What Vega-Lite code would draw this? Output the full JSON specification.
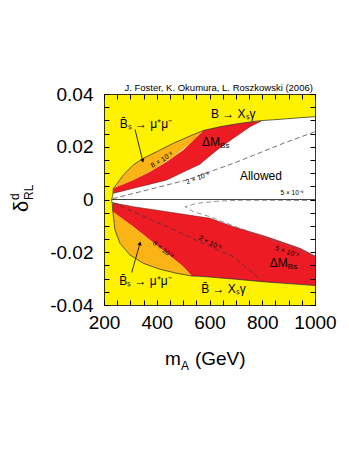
{
  "$schema": "https://vega.github.io/schema/vega-lite/v6.json",
  "width": 211,
  "height": 211,
  "autosize": {"type": "none"},
  "padding": {"left": 104, "top": 94, "right": 34, "bottom": 146},
  "background": "white",
  "view": {"fill": "#fff200", "stroke": null},
  "config": {
    "axis": {"grid": false, "zindex": 1, "ticks": true, "tickSize": -5, "tickColor": "black", "tickWidth": 1, "domainColor": "black", "domainWidth": 0.8, "labelFont": "Liberation Sans", "labelFontSize": 19, "labelColor": "black", "labelOverlap": false, "labelFlush": false},
    "text": {"font": "Liberation Sans", "color": "black"}
  },
  "datasets": {
    "edges": [
      {"seg": "yu", "x": 229, "y": 0}, {"seg": "yu", "x": 233, "y": 0.0015}, {"seg": "yu", "x": 235.3, "y": 0.0042}, {"seg": "yu", "x": 248.2, "y": 0.0058}, {"seg": "yu", "x": 273.2, "y": 0.0093}, {"seg": "yu", "x": 311.1, "y": 0.01308}, {"seg": "yu", "x": 349, "y": 0.01562}, {"seg": "yu", "x": 399.8, "y": 0.01812}, {"seg": "yu", "x": 462.7, "y": 0.0213}, {"seg": "yu", "x": 526.1, "y": 0.02407}, {"seg": "yu", "x": 576.5, "y": 0.02615}, {"seg": "yu", "x": 639.8, "y": 0.0276}, {"seg": "yu", "x": 715.6, "y": 0.02888}, {"seg": "yu", "x": 791.5, "y": 0.02987}, {"seg": "yu", "x": 867.3, "y": 0.0304}, {"seg": "yu", "x": 943.1, "y": 0.031}, {"seg": "yu", "x": 1000, "y": 0.0314},
      {"seg": "yl", "x": 229, "y": 0}, {"seg": "yl", "x": 232, "y": -0.0021}, {"seg": "yl", "x": 233, "y": -0.004}, {"seg": "yl", "x": 241.7, "y": -0.01156}, {"seg": "yl", "x": 260.7, "y": -0.0166}, {"seg": "yl", "x": 298.6, "y": -0.02104}, {"seg": "yl", "x": 349, "y": -0.02419}, {"seg": "yl", "x": 412.3, "y": -0.02646}, {"seg": "yl", "x": 475.6, "y": -0.02797}, {"seg": "yl", "x": 532.5, "y": -0.029}, {"seg": "yl", "x": 564, "y": -0.0291}, {"seg": "yl", "x": 690.2, "y": -0.03014}, {"seg": "yl", "x": 816.9, "y": -0.03128}, {"seg": "yl", "x": 1000, "y": -0.0326},
      {"seg": "ru", "x": 235.3, "y": 0.00235}, {"seg": "ru", "x": 311.1, "y": 0.00425}, {"seg": "ru", "x": 437.7, "y": 0.00739}, {"seg": "ru", "x": 564, "y": 0.0134}, {"seg": "ru", "x": 627.3, "y": 0.01876}, {"seg": "ru", "x": 690.2, "y": 0.0232}, {"seg": "ru", "x": 753.5, "y": 0.0276}, {"seg": "ru", "x": 797, "y": 0.0298},
      {"seg": "rl", "x": 233, "y": -0.00121}, {"seg": "rl", "x": 311.1, "y": -0.00273}, {"seg": "rl", "x": 437.7, "y": -0.00462}, {"seg": "rl", "x": 601.9, "y": -0.00713}, {"seg": "rl", "x": 690.2, "y": -0.01031}, {"seg": "rl", "x": 816.9, "y": -0.0141}, {"seg": "rl", "x": 943.1, "y": -0.0185}, {"seg": "rl", "x": 1000, "y": -0.0214},
      {"seg": "zero", "x": 229, "y": 0}, {"seg": "zero", "x": 1000, "y": 0}
    ],
    "areas": [
      {"region": "redU", "x": 235.3, "y": 0.00425, "y2": 0.00235}, {"region": "redU", "x": 260, "y": 0.00527, "y2": 0.00297}, {"region": "redU", "x": 311.1, "y": 0.00739, "y2": 0.00425}, {"region": "redU", "x": 374.4, "y": 0.01054, "y2": 0.00582}, {"region": "redU", "x": 437.7, "y": 0.01433, "y2": 0.00739}, {"region": "redU", "x": 500.7, "y": 0.01876, "y2": 0.0104}, {"region": "redU", "x": 564, "y": 0.02493, "y2": 0.0134}, {"region": "redU", "x": 576.5, "y": 0.02615, "y2": 0.01446}, {"region": "redU", "x": 639.8, "y": 0.0276, "y2": 0.01964}, {"region": "redU", "x": 690.2, "y": 0.02845, "y2": 0.0232}, {"region": "redU", "x": 753.5, "y": 0.02937, "y2": 0.0276}, {"region": "redU", "x": 797, "y": 0.0298, "y2": 0.0298},
      {"region": "redL", "x": 233, "y": -0.00121, "y2": -0.00462}, {"region": "redL", "x": 311.1, "y": -0.00273, "y2": -0.01031}, {"region": "redL", "x": 374.4, "y": -0.00367, "y2": -0.01535}, {"region": "redL", "x": 437.7, "y": -0.00462, "y2": -0.0204}, {"region": "redL", "x": 500.7, "y": -0.00558, "y2": -0.02547}, {"region": "redL", "x": 532.5, "y": -0.00607, "y2": -0.029}, {"region": "redL", "x": 564, "y": -0.00655, "y2": -0.0291}, {"region": "redL", "x": 601.9, "y": -0.00713, "y2": -0.0294}, {"region": "redL", "x": 690.2, "y": -0.01031, "y2": -0.03014}, {"region": "redL", "x": 816.9, "y": -0.0141, "y2": -0.03128}, {"region": "redL", "x": 943.1, "y": -0.0185, "y2": -0.0321}, {"region": "redL", "x": 1000, "y": -0.0214, "y2": -0.0326},
      {"region": "orU", "x": 235.3, "y": 0.0042, "y2": 0.0042}, {"region": "orU", "x": 248.2, "y": 0.0058, "y2": 0.0048}, {"region": "orU", "x": 273.2, "y": 0.0093, "y2": 0.00582}, {"region": "orU", "x": 311.1, "y": 0.01308, "y2": 0.00739}, {"region": "orU", "x": 349, "y": 0.01562, "y2": 0.00928}, {"region": "orU", "x": 399.8, "y": 0.01812, "y2": 0.01206}, {"region": "orU", "x": 462.7, "y": 0.0213, "y2": 0.01609}, {"region": "orU", "x": 526.1, "y": 0.02407, "y2": 0.02124}, {"region": "orU", "x": 576.5, "y": 0.02615, "y2": 0.02615},
      {"region": "orL", "x": 233, "y": -0.0042, "y2": -0.0042}, {"region": "orL", "x": 241.7, "y": -0.00525, "y2": -0.01156}, {"region": "orL", "x": 260.7, "y": -0.00663, "y2": -0.0166}, {"region": "orL", "x": 298.6, "y": -0.0094, "y2": -0.02104}, {"region": "orL", "x": 349, "y": -0.01333, "y2": -0.02419}, {"region": "orL", "x": 412.3, "y": -0.01838, "y2": -0.02646}, {"region": "orL", "x": 475.6, "y": -0.02345, "y2": -0.02797}, {"region": "orL", "x": 500.7, "y": -0.02547, "y2": -0.0284}, {"region": "orL", "x": 532.5, "y": -0.029, "y2": -0.029}
    ],
    "dashes": [
      {"seg": "d2u", "i": 1, "x": 233, "y": 0.0003}, {"seg": "d2u", "i": 2, "x": 513.5, "y": 0.0074}, {"seg": "d2u", "i": 3, "x": 690.2, "y": 0.0137}, {"seg": "d2u", "i": 4, "x": 879.8, "y": 0.0213}, {"seg": "d2u", "i": 5, "x": 1000, "y": 0.0257},
      {"seg": "d2l", "i": 1, "x": 233, "y": -0.0012}, {"seg": "d2l", "i": 2, "x": 437.7, "y": -0.01027}, {"seg": "d2l", "i": 3, "x": 556.4, "y": -0.01573}, {"seg": "d2l", "i": 4, "x": 690.2, "y": -0.02168}, {"seg": "d2l", "i": 5, "x": 804, "y": -0.03116},
      {"seg": "d5l", "i": 1, "x": 1000, "y": -0.00038}, {"seg": "d5l", "i": 2, "x": 715.6, "y": -0.0003}, {"seg": "d5l", "i": 3, "x": 639.8, "y": -0.00057}, {"seg": "d5l", "i": 4, "x": 551.5, "y": -0.00144}, {"seg": "d5l", "i": 5, "x": 507.1, "y": -0.00273}, {"seg": "d5l", "i": 6, "x": 538.6, "y": -0.00462}, {"seg": "d5l", "i": 7, "x": 601.9, "y": -0.00652}, {"seg": "d5l", "i": 8, "x": 665.2, "y": -0.00902}, {"seg": "d5l", "i": 9, "x": 715.6, "y": -0.01092}, {"seg": "d5l", "i": 10, "x": 816.9, "y": -0.0146}, {"seg": "d5l", "i": 11, "x": 943.1, "y": -0.019}, {"seg": "d5l", "i": 12, "x": 1000, "y": -0.0218}
    ],
    "arrows": [
      {"seg": "au", "i": 1, "x": 317.5, "y": 0.0266}, {"seg": "au", "i": 2, "x": 346.7, "y": 0.0147},
      {"seg": "al", "i": 1, "x": 305, "y": -0.0277}, {"seg": "al", "i": 2, "x": 336.5, "y": -0.0166}
    ]
  },
  "resolve": {"axis": {"x": "independent", "y": "independent"}},
  "layer": [
    {
      "data": {"name": "edges"},
      "transform": [{"filter": "datum.seg === 'yu'"}],
      "mark": {"type": "area", "color": "white"},
      "encoding": {
        "x": {"field": "x", "type": "quantitative", "scale": {"domain": [200, 1000], "nice": false, "zero": false},
          "axis": {"orient": "bottom", "title": null, "zindex": 2, "ticks": true, "tickSize": -5, "values": [200, 250, 300, 350, 400, 450, 500, 550, 600, 650, 700, 750, 800, 850, 900, 950, 1000], "labelExpr": "datum.value % 200 === 0 ? '' + datum.value : ''", "labelPadding": 13}},
        "y": {"field": "y", "type": "quantitative", "stack": null, "scale": {"domain": [-0.04, 0.04], "nice": false, "zero": false},
          "axis": {"orient": "left", "title": null, "zindex": 2, "ticks": true, "tickSize": -5, "values": [-0.04, -0.035, -0.03, -0.025, -0.02, -0.015, -0.01, -0.005, 0, 0.005, 0.01, 0.015, 0.02, 0.025, 0.03, 0.035, 0.04], "labelExpr": "round(datum.value*1000) % 20 === 0 ? (abs(datum.value) < 1e-9 ? '0' : (datum.value < 0 ? '-' : '') + format(abs(datum.value), '.2f')) : ''", "labelPadding": 16}},
        "y2": {"datum": 0}
      }
    },
    {
      "data": {"name": "edges"},
      "transform": [{"filter": "datum.seg === 'yl'"}],
      "mark": {"type": "area", "color": "white"},
      "encoding": {
        "x": {"field": "x", "type": "quantitative", "scale": {"domain": [200, 1000], "nice": false, "zero": false},
          "axis": {"orient": "top", "title": null, "zindex": 2, "ticks": true, "tickSize": -5, "labels": false, "values": [200, 250, 300, 350, 400, 450, 500, 550, 600, 650, 700, 750, 800, 850, 900, 950, 1000]}},
        "y": {"field": "y", "type": "quantitative", "stack": null, "scale": {"domain": [-0.04, 0.04], "nice": false, "zero": false},
          "axis": {"orient": "right", "title": null, "zindex": 2, "ticks": true, "tickSize": -5, "labels": false, "values": [-0.04, -0.035, -0.03, -0.025, -0.02, -0.015, -0.01, -0.005, 0, 0.005, 0.01, 0.015, 0.02, 0.025, 0.03, 0.035, 0.04]}},
        "y2": {"datum": 0}
      }
    },
    {
      "data": {"name": "areas"},
      "transform": [{"filter": "datum.region === 'redU' || datum.region === 'redL'"}],
      "mark": {"type": "area", "color": "#ed1c24"},
      "encoding": {
        "detail": {"field": "region"},
        "x": {"field": "x", "type": "quantitative", "scale": {"domain": [200, 1000], "nice": false, "zero": false}, "axis": null},
        "y": {"field": "y", "type": "quantitative", "stack": null, "scale": {"domain": [-0.04, 0.04], "nice": false, "zero": false}, "axis": null},
        "y2": {"field": "y2"}
      }
    },
    {
      "data": {"name": "areas"},
      "transform": [{"filter": "datum.region === 'orU' || datum.region === 'orL'"}],
      "mark": {"type": "area", "color": "#fbb416"},
      "encoding": {
        "detail": {"field": "region"},
        "x": {"field": "x", "type": "quantitative", "scale": {"domain": [200, 1000], "nice": false, "zero": false}, "axis": null},
        "y": {"field": "y", "type": "quantitative", "stack": null, "scale": {"domain": [-0.04, 0.04], "nice": false, "zero": false}, "axis": null},
        "y2": {"field": "y2"}
      }
    },
    {
      "data": {"name": "edges"},
      "transform": [{"filter": "datum.seg === 'yu' || datum.seg === 'yl'"}],
      "mark": {"type": "line", "color": "#222", "strokeWidth": 0.7},
      "encoding": {
        "detail": {"field": "seg"},
        "x": {"field": "x", "type": "quantitative", "scale": {"domain": [200, 1000], "nice": false, "zero": false}, "axis": null},
        "y": {"field": "y", "type": "quantitative", "scale": {"domain": [-0.04, 0.04], "nice": false, "zero": false}, "axis": null}
      }
    },
    {
      "data": {"name": "edges"},
      "transform": [{"filter": "datum.seg === 'ru' || datum.seg === 'rl'"}],
      "mark": {"type": "line", "color": "#5a0a0a", "strokeWidth": 0.5},
      "encoding": {
        "detail": {"field": "seg"},
        "x": {"field": "x", "type": "quantitative", "scale": {"domain": [200, 1000], "nice": false, "zero": false}, "axis": null},
        "y": {"field": "y", "type": "quantitative", "scale": {"domain": [-0.04, 0.04], "nice": false, "zero": false}, "axis": null}
      }
    },
    {
      "data": {"name": "edges"},
      "transform": [{"filter": "datum.seg === 'zero'"}],
      "mark": {"type": "line", "color": "#444", "strokeWidth": 1},
      "encoding": {
        "x": {"field": "x", "type": "quantitative", "scale": {"domain": [200, 1000], "nice": false, "zero": false}, "axis": null},
        "y": {"field": "y", "type": "quantitative", "scale": {"domain": [-0.04, 0.04], "nice": false, "zero": false}, "axis": null}
      }
    },
    {
      "data": {"name": "dashes"},
      "transform": [{"filter": "datum.seg !== 'd5l'"}],
      "mark": {"type": "line", "color": "#333", "strokeWidth": 0.7, "strokeDash": [5, 3]},
      "encoding": {
        "detail": {"field": "seg"},
        "order": {"field": "i", "type": "quantitative"},
        "x": {"field": "x", "type": "quantitative", "scale": {"domain": [200, 1000], "nice": false, "zero": false}, "axis": null},
        "y": {"field": "y", "type": "quantitative", "scale": {"domain": [-0.04, 0.04], "nice": false, "zero": false}, "axis": null}
      }
    },
    {
      "data": {"name": "dashes"},
      "transform": [{"filter": "datum.seg === 'd5l'"}],
      "mark": {"type": "line", "color": "#666", "strokeWidth": 0.7, "strokeDash": [5, 3]},
      "encoding": {
        "order": {"field": "i", "type": "quantitative"},
        "x": {"field": "x", "type": "quantitative", "scale": {"domain": [200, 1000], "nice": false, "zero": false}, "axis": null},
        "y": {"field": "y", "type": "quantitative", "scale": {"domain": [-0.04, 0.04], "nice": false, "zero": false}, "axis": null}
      }
    },
    {
      "data": {"name": "arrows"},
      "mark": {"type": "line", "color": "black", "strokeWidth": 0.8},
      "encoding": {
        "detail": {"field": "seg"},
        "order": {"field": "i", "type": "quantitative"},
        "x": {"field": "x", "type": "quantitative", "scale": {"domain": [200, 1000], "nice": false, "zero": false}, "axis": null},
        "y": {"field": "y", "type": "quantitative", "scale": {"domain": [-0.04, 0.04], "nice": false, "zero": false}, "axis": null}
      }
    },
    {
      "data": {"name": "arrows"},
      "transform": [{"filter": "datum.seg === 'au' && datum.i === 2"}],
      "mark": {"type": "point", "shape": "triangle-down", "filled": true, "color": "black", "size": 18, "angle": 346, "opacity": 1},
      "encoding": {
        "x": {"field": "x", "type": "quantitative", "scale": {"domain": [200, 1000], "nice": false, "zero": false}, "axis": null},
        "y": {"field": "y", "type": "quantitative", "scale": {"domain": [-0.04, 0.04], "nice": false, "zero": false}, "axis": null}
      }
    },
    {
      "data": {"name": "arrows"},
      "transform": [{"filter": "datum.seg === 'al' && datum.i === 2"}],
      "mark": {"type": "point", "shape": "triangle-up", "filled": true, "color": "black", "size": 18, "angle": 16, "opacity": 1},
      "encoding": {
        "x": {"field": "x", "type": "quantitative", "scale": {"domain": [200, 1000], "nice": false, "zero": false}, "axis": null},
        "y": {"field": "y", "type": "quantitative", "scale": {"domain": [-0.04, 0.04], "nice": false, "zero": false}, "axis": null}
      }
    },
    {
      "data": {"values": [{"label": "J. Foster, K. Okumura, L. Roszkowski (2006)", "x": 992, "y": 0.0411}]},
      "mark": {"type": "text", "fontSize": 9.5, "align": "right", "baseline": "alphabetic"},
      "encoding": {
        "text": {"field": "label"},
        "x": {"field": "x", "type": "quantitative", "scale": {"domain": [200, 1000], "nice": false, "zero": false}, "axis": null},
        "y": {"field": "y", "type": "quantitative", "scale": {"domain": [-0.04, 0.04], "nice": false, "zero": false}, "axis": null}
      }
    },
    {
      "data": {"values": [{"label": "B̄ₛ → μ⁺μ⁻", "x": 359, "y": 0.0286}, {"label": "B̄ₛ → μ⁺μ⁻", "x": 357, "y": -0.0309}, {"label": "B → Xₛγ", "x": 690, "y": 0.0326}, {"label": "B̄ → Xₛγ", "x": 653, "y": -0.0339}, {"label": "Allowed", "x": 795, "y": 0.0089}]},
      "mark": {"type": "text", "fontSize": 12, "align": "center", "baseline": "middle"},
      "encoding": {
        "text": {"field": "label"},
        "x": {"field": "x", "type": "quantitative", "scale": {"domain": [200, 1000], "nice": false, "zero": false}, "axis": null},
        "y": {"field": "y", "type": "quantitative", "scale": {"domain": [-0.04, 0.04], "nice": false, "zero": false}, "axis": null}
      }
    },
    {
      "data": {"values": [{"x": 640, "y": 0.0218}, {"x": 897, "y": -0.0241}]},
      "mark": {"type": "text", "fontSize": 12, "align": "right", "baseline": "middle", "text": "ΔM"},
      "encoding": {
        "x": {"field": "x", "type": "quantitative", "scale": {"domain": [200, 1000], "nice": false, "zero": false}, "axis": null},
        "y": {"field": "y", "type": "quantitative", "scale": {"domain": [-0.04, 0.04], "nice": false, "zero": false}, "axis": null}
      }
    },
    {
      "data": {"values": [{"x": 640, "y": 0.0218}, {"x": 897, "y": -0.0241}]},
      "mark": {"type": "text", "fontSize": 8, "align": "left", "baseline": "middle", "dy": 4, "text": "Bs"},
      "encoding": {
        "x": {"field": "x", "type": "quantitative", "scale": {"domain": [200, 1000], "nice": false, "zero": false}, "axis": null},
        "y": {"field": "y", "type": "quantitative", "scale": {"domain": [-0.04, 0.04], "nice": false, "zero": false}, "axis": null}
      }
    },
    {
      "data": {"values": [{"label": "8 × 10⁻⁸", "x": 420, "y": 0.015}]},
      "mark": {"type": "text", "fontSize": 7, "align": "center", "baseline": "middle", "angle": 329},
      "encoding": {
        "text": {"field": "label"},
        "x": {"field": "x", "type": "quantitative", "scale": {"domain": [200, 1000], "nice": false, "zero": false}, "axis": null},
        "y": {"field": "y", "type": "quantitative", "scale": {"domain": [-0.04, 0.04], "nice": false, "zero": false}, "axis": null}
      }
    },
    {
      "data": {"values": [{"label": "8 × 10⁻⁸", "x": 424, "y": -0.0191}]},
      "mark": {"type": "text", "fontSize": 7, "align": "center", "baseline": "middle", "angle": 39},
      "encoding": {
        "text": {"field": "label"},
        "x": {"field": "x", "type": "quantitative", "scale": {"domain": [200, 1000], "nice": false, "zero": false}, "axis": null},
        "y": {"field": "y", "type": "quantitative", "scale": {"domain": [-0.04, 0.04], "nice": false, "zero": false}, "axis": null}
      }
    },
    {
      "data": {"values": [{"label": "2 × 10⁻⁸", "x": 556, "y": 0.0081}]},
      "mark": {"type": "text", "fontSize": 7, "align": "center", "baseline": "middle", "angle": 340},
      "encoding": {
        "text": {"field": "label"},
        "x": {"field": "x", "type": "quantitative", "scale": {"domain": [200, 1000], "nice": false, "zero": false}, "axis": null},
        "y": {"field": "y", "type": "quantitative", "scale": {"domain": [-0.04, 0.04], "nice": false, "zero": false}, "axis": null}
      }
    },
    {
      "data": {"values": [{"label": "2 × 10⁻⁸", "x": 602, "y": -0.0165}]},
      "mark": {"type": "text", "fontSize": 7, "align": "center", "baseline": "middle", "angle": 27},
      "encoding": {
        "text": {"field": "label"},
        "x": {"field": "x", "type": "quantitative", "scale": {"domain": [200, 1000], "nice": false, "zero": false}, "axis": null},
        "y": {"field": "y", "type": "quantitative", "scale": {"domain": [-0.04, 0.04], "nice": false, "zero": false}, "axis": null}
      }
    },
    {
      "data": {"values": [{"label": "5 × 10⁻⁹", "x": 913, "y": 0.0025}]},
      "mark": {"type": "text", "fontSize": 6.5, "align": "center", "baseline": "middle"},
      "encoding": {
        "text": {"field": "label"},
        "x": {"field": "x", "type": "quantitative", "scale": {"domain": [200, 1000], "nice": false, "zero": false}, "axis": null},
        "y": {"field": "y", "type": "quantitative", "scale": {"domain": [-0.04, 0.04], "nice": false, "zero": false}, "axis": null}
      }
    },
    {
      "data": {"values": [{"label": "5 × 10⁻⁹", "x": 894, "y": -0.0199}]},
      "mark": {"type": "text", "fontSize": 7, "align": "center", "baseline": "middle", "angle": 19},
      "encoding": {
        "text": {"field": "label"},
        "x": {"field": "x", "type": "quantitative", "scale": {"domain": [200, 1000], "nice": false, "zero": false}, "axis": null},
        "y": {"field": "y", "type": "quantitative", "scale": {"domain": [-0.04, 0.04], "nice": false, "zero": false}, "axis": null}
      }
    },
    {
      "data": {"values": [{"x": 431, "y": -0.0627}]},
      "mark": {"type": "text", "fontSize": 19, "align": "left", "baseline": "alphabetic", "text": "m"},
      "encoding": {
        "x": {"field": "x", "type": "quantitative", "scale": {"domain": [200, 1000], "nice": false, "zero": false}, "axis": null},
        "y": {"field": "y", "type": "quantitative", "scale": {"domain": [-0.04, 0.04], "nice": false, "zero": false}, "axis": null}
      }
    },
    {
      "data": {"values": [{"x": 431, "y": -0.0627}]},
      "mark": {"type": "text", "fontSize": 12, "align": "left", "baseline": "alphabetic", "dx": 16, "dy": 5, "text": "A"},
      "encoding": {
        "x": {"field": "x", "type": "quantitative", "scale": {"domain": [200, 1000], "nice": false, "zero": false}, "axis": null},
        "y": {"field": "y", "type": "quantitative", "scale": {"domain": [-0.04, 0.04], "nice": false, "zero": false}, "axis": null}
      }
    },
    {
      "data": {"values": [{"x": 431, "y": -0.0627}]},
      "mark": {"type": "text", "fontSize": 19, "align": "left", "baseline": "alphabetic", "dx": 30, "text": "(GeV)"},
      "encoding": {
        "x": {"field": "x", "type": "quantitative", "scale": {"domain": [200, 1000], "nice": false, "zero": false}, "axis": null},
        "y": {"field": "y", "type": "quantitative", "scale": {"domain": [-0.04, 0.04], "nice": false, "zero": false}, "axis": null}
      }
    },
    {
      "data": {"values": [{"x": -88, "y": -0.00474}]},
      "mark": {"type": "text", "fontSize": 20, "align": "left", "baseline": "alphabetic", "angle": 270, "text": "δ"},
      "encoding": {
        "x": {"field": "x", "type": "quantitative", "scale": {"domain": [200, 1000], "nice": false, "zero": false}, "axis": null},
        "y": {"field": "y", "type": "quantitative", "scale": {"domain": [-0.04, 0.04], "nice": false, "zero": false}, "axis": null}
      }
    },
    {
      "data": {"values": [{"x": -88, "y": -0.00474}]},
      "mark": {"type": "text", "fontSize": 12, "align": "left", "baseline": "alphabetic", "angle": 270, "dx": 12, "dy": -9, "text": "d"},
      "encoding": {
        "x": {"field": "x", "type": "quantitative", "scale": {"domain": [200, 1000], "nice": false, "zero": false}, "axis": null},
        "y": {"field": "y", "type": "quantitative", "scale": {"domain": [-0.04, 0.04], "nice": false, "zero": false}, "axis": null}
      }
    },
    {
      "data": {"values": [{"x": -88, "y": -0.00474}]},
      "mark": {"type": "text", "fontSize": 12, "align": "left", "baseline": "alphabetic", "angle": 270, "dx": 12, "dy": 5, "text": "RL"},
      "encoding": {
        "x": {"field": "x", "type": "quantitative", "scale": {"domain": [200, 1000], "nice": false, "zero": false}, "axis": null},
        "y": {"field": "y", "type": "quantitative", "scale": {"domain": [-0.04, 0.04], "nice": false, "zero": false}, "axis": null}
      }
    }
  ]
}
